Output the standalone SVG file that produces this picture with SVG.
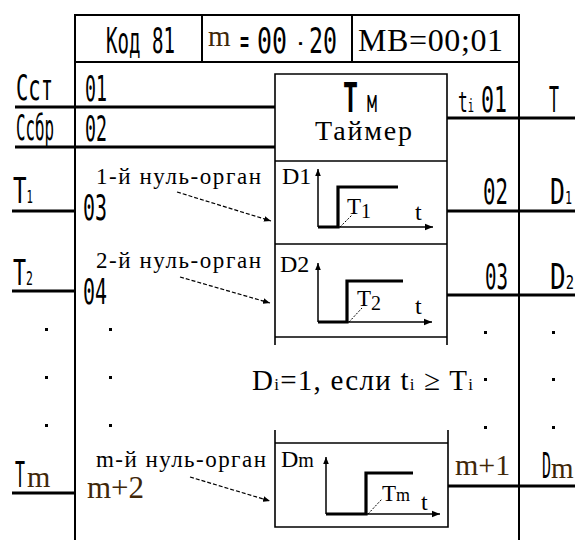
<svg xmlns="http://www.w3.org/2000/svg" width="580" height="540" viewBox="0 0 580 540">
<defs>
<style>
text{fill:#000}
.m{font-family:"DejaVu Sans Mono","Liberation Mono",monospace}
.s{font-family:"Liberation Serif","Times New Roman",serif;font-weight:normal}
.br{fill:#3f2708}
.fr{stroke:#000;stroke-width:2;fill:none}
.bx{stroke:#000;stroke-width:1.6;fill:none}
.sig{stroke:#000;stroke-width:3;fill:none}
.ax{stroke:#000;stroke-width:1.5;fill:none}
.st{stroke:#000;stroke-width:3.2;fill:none}
.dl{stroke:#000;stroke-width:1;stroke-dasharray:2 1.5;fill:none}
.da{stroke:#000;stroke-width:1.2;stroke-dasharray:4 2;fill:none}
</style>
<marker id="ah" viewBox="0 0 10 10" refX="10" refY="5" markerWidth="9" markerHeight="8" markerUnits="userSpaceOnUse" orient="auto"><path d="M0,1 L10,5 L0,9 Z" fill="#000"/></marker>
<marker id="ahs" viewBox="0 0 10 10" refX="10" refY="5" markerWidth="7" markerHeight="7" markerUnits="userSpaceOnUse" orient="auto"><path d="M0,1 L10,5 L0,9 Z" fill="#000"/></marker>
</defs>

<g id="frame">
<line class="fr" x1="75" y1="15" x2="519" y2="15" stroke-width="2.5"/>
<line class="fr" x1="75" y1="62" x2="519" y2="62" stroke-width="2.5"/>
<line class="fr" x1="75" y1="14" x2="75" y2="540"/>
<line class="fr" x1="519" y1="14" x2="519" y2="540"/>
<line class="fr" x1="202" y1="15" x2="202" y2="62" stroke-width="3"/>
<line class="fr" x1="352" y1="15" x2="352" y2="62" stroke-width="2.2"/>
</g>

<g id="header">
<text class="m" x="106" y="53" font-size="36" textLength="69" lengthAdjust="spacingAndGlyphs">Код 81</text>
<text class="s br" x="208" y="46" font-size="29">m</text>
<text class="m" x="240" y="53" font-size="36" textLength="9" lengthAdjust="spacingAndGlyphs">=</text>
<text class="m" x="257" y="53" font-size="36" textLength="30" lengthAdjust="spacingAndGlyphs">00</text>
<text class="m" x="297" y="53" font-size="36" textLength="7" lengthAdjust="spacingAndGlyphs">-</text>
<text class="m" x="309" y="53" font-size="36" textLength="28" lengthAdjust="spacingAndGlyphs">20</text>
<text class="s" x="358" y="51" font-size="32" textLength="145" lengthAdjust="spacing">МВ=00;01</text>
</g>

<g id="inputs">
<text class="m" x="16" y="100" font-size="36" textLength="37" lengthAdjust="spacingAndGlyphs">Сст</text>
<text class="m" x="16" y="140" font-size="36" textLength="38" lengthAdjust="spacingAndGlyphs">Ссбр</text>
<text class="m" x="13" y="203" font-size="36" textLength="20" lengthAdjust="spacingAndGlyphs">Т<tspan font-size="17">1</tspan></text>
<text class="m" x="13" y="285" font-size="36" textLength="20" lengthAdjust="spacingAndGlyphs">Т<tspan font-size="19">2</tspan></text>
<text class="m" x="15" y="487" font-size="36" textLength="10" lengthAdjust="spacingAndGlyphs">Т</text>
<text class="s br" x="27" y="487" font-size="30">m</text>
<text class="m" x="85" y="101" font-size="36" textLength="22" lengthAdjust="spacingAndGlyphs">01</text>
<text class="m" x="85" y="141" font-size="36" textLength="22" lengthAdjust="spacingAndGlyphs">02</text>
<text class="m" x="83" y="220" font-size="36" textLength="24" lengthAdjust="spacingAndGlyphs">03</text>
<text class="m" x="83" y="304" font-size="36" textLength="24" lengthAdjust="spacingAndGlyphs">04</text>
<text class="s br" x="87" y="498" font-size="31">m+2</text>
<text class="s" x="96" y="184" font-size="23" textLength="165" lengthAdjust="spacing">1-й нуль-орган</text>
<text class="s" x="96" y="268" font-size="23" textLength="165" lengthAdjust="spacing">2-й нуль-орган</text>
<text class="s" x="96" y="467" font-size="23" textLength="170" lengthAdjust="spacing">m-й нуль-орган</text>
<rect x="45" y="328" width="3" height="3"/><rect x="45" y="376" width="3" height="3"/><rect x="45" y="424" width="3" height="3"/>
<rect x="109" y="328" width="3" height="3"/><rect x="109" y="376" width="3" height="3"/><rect x="109" y="424" width="3" height="3"/>
</g>

<g id="timer">
<path class="bx" d="M275,345 V74 H447 V345"/>
<line class="bx" x1="275" y1="161" x2="447" y2="161"/>
<line class="bx" x1="275" y1="244" x2="447" y2="244"/>
<line class="bx" x1="275" y1="337" x2="447" y2="337"/>
<text class="m" x="343" y="112" font-size="40" font-weight="bold" textLength="15" lengthAdjust="spacingAndGlyphs">Т</text>
<text class="m" x="367" y="112" font-size="30" textLength="10" lengthAdjust="spacingAndGlyphs">м</text>
<text class="s" x="315" y="140" font-size="28" textLength="97" lengthAdjust="spacing">Таймер</text>
</g>

<g id="graph1">
<line class="ax" x1="318" y1="227" x2="318" y2="169" marker-end="url(#ahs)"/>
<line class="ax" x1="318" y1="227" x2="433" y2="227" marker-end="url(#ah)"/>
<path class="st" d="M318,227 H338 V187 H398"/>
<line class="dl" x1="340" y1="227" x2="352" y2="215"/>
<text class="s" x="282" y="184" font-size="24">D1</text>
<text class="s" x="347" y="214" font-size="23">T<tspan font-size="20" dy="4">1</tspan></text>
<text class="s" x="415" y="220" font-size="24">t</text>
</g>

<g id="graph2">
<line class="ax" x1="318" y1="322" x2="318" y2="263" marker-end="url(#ahs)"/>
<line class="ax" x1="318" y1="322" x2="432" y2="322" marker-end="url(#ah)"/>
<path class="st" d="M318,322 H347 V281 H403"/>
<line class="dl" x1="349" y1="322" x2="362" y2="308"/>
<text class="s" x="280" y="272" font-size="24">D2</text>
<text class="s" x="357" y="306" font-size="23">T<tspan font-size="20" dy="4">2</tspan></text>
<text class="s" x="415" y="314" font-size="24">t</text>
</g>

<g id="note">
<text class="s" x="252" y="390" font-size="29" textLength="221" lengthAdjust="spacing">D<tspan font-size="17">i</tspan>=1, если t<tspan font-size="17">i</tspan> ≥ T<tspan font-size="17">i</tspan></text>
</g>

<g id="graphm">
<path class="bx" d="M275,430 V527 H448 V430"/>
<line class="bx" x1="275" y1="443" x2="448" y2="443"/>
<line class="ax" x1="326" y1="514" x2="326" y2="457" marker-end="url(#ahs)"/>
<line class="ax" x1="326" y1="514" x2="440" y2="514" marker-end="url(#ah)"/>
<path class="st" d="M326,514 H366 V473 H413"/>
<line class="dl" x1="368" y1="514" x2="382" y2="499"/>
<text class="s" x="281" y="467" font-size="24">D<tspan font-size="20">m</tspan></text>
<text class="s" x="382" y="501" font-size="23">T<tspan font-size="18">m</tspan></text>
<text class="s" x="421" y="510" font-size="24">t</text>
</g>

<g id="outputs">
<text class="m" x="458" y="112" font-size="28" textLength="16" lengthAdjust="spacingAndGlyphs">t<tspan font-size="18">i</tspan></text>
<text class="m" x="481" y="112" font-size="36" textLength="26" lengthAdjust="spacingAndGlyphs">01</text>
<text class="m" x="549" y="112" font-size="36" textLength="10" lengthAdjust="spacingAndGlyphs">T</text>
<text class="m" x="483" y="204" font-size="36" textLength="25" lengthAdjust="spacingAndGlyphs">02</text>
<text class="m" x="550" y="204" font-size="36" textLength="22" lengthAdjust="spacingAndGlyphs">D<tspan font-size="17">1</tspan></text>
<text class="m" x="485" y="289" font-size="36" textLength="23" lengthAdjust="spacingAndGlyphs">03</text>
<text class="m" x="550" y="289" font-size="36" textLength="24" lengthAdjust="spacingAndGlyphs">D<tspan font-size="19">2</tspan></text>
<text class="s br" x="455" y="475" font-size="30">m+1</text>
<text class="m" x="542" y="478" font-size="36" textLength="9" lengthAdjust="spacingAndGlyphs">D</text>
<text class="s br" x="551" y="478" font-size="29">m</text>
<rect x="484" y="331" width="3" height="3"/><rect x="484" y="378" width="3" height="3"/><rect x="484" y="426" width="3" height="3"/>
<rect x="552" y="331" width="3" height="3"/><rect x="552" y="378" width="3" height="3"/><rect x="552" y="426" width="3" height="3"/>
</g>

<g id="connectors">
<line class="sig" x1="15" y1="107" x2="275" y2="107"/>
<line class="sig" x1="15" y1="147" x2="275" y2="147"/>
<line class="sig" x1="12" y1="211" x2="75" y2="211"/>
<line class="sig" x1="12" y1="291" x2="75" y2="291"/>
<line class="sig" x1="12" y1="493" x2="75" y2="493"/>
<line class="sig" x1="447" y1="118" x2="575" y2="118"/>
<line class="sig" x1="447" y1="211" x2="575" y2="211"/>
<line class="sig" x1="447" y1="295" x2="575" y2="295"/>
<line class="sig" x1="448" y1="486" x2="575" y2="486"/>
<line class="da" x1="177" y1="192" x2="271" y2="221" marker-end="url(#ahs)"/>
<line class="da" x1="180" y1="277" x2="270" y2="303" marker-end="url(#ahs)"/>
<line class="da" x1="190" y1="477" x2="270" y2="501" marker-end="url(#ahs)"/>
</g>
</svg>
